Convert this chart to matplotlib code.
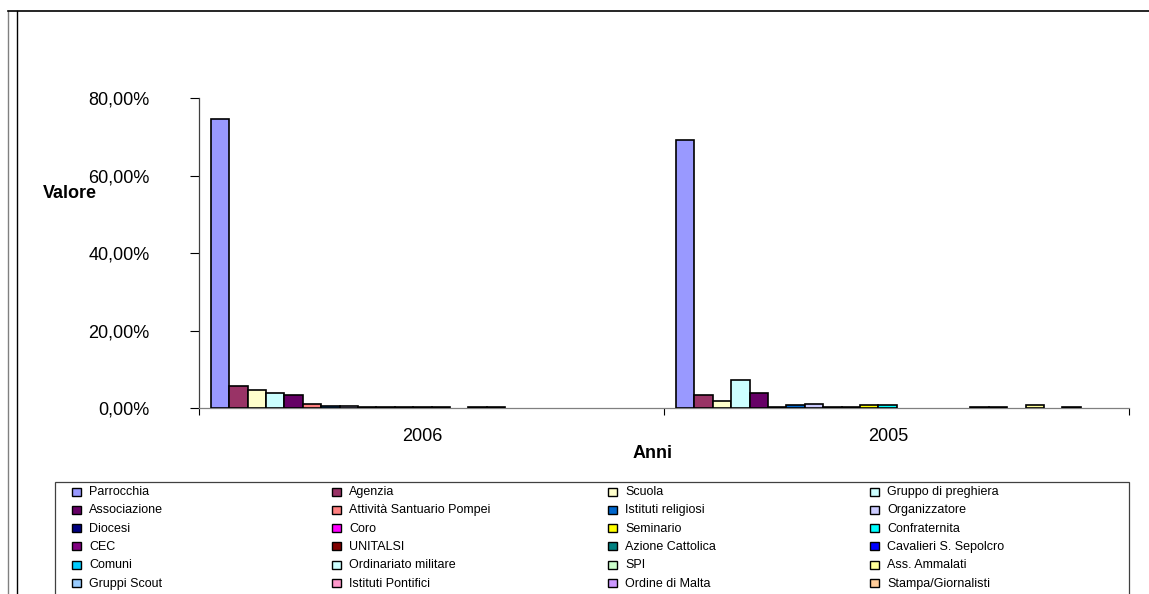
import matplotlib
matplotlib.use("Agg")
import matplotlib.pyplot as plt
from matplotlib.patches import Rectangle
from matplotlib.lines import Line2D
from matplotlib.ticker import FuncFormatter, FixedLocator
import matplotlib.transforms as mtransforms

plt.rcParams['font.family'] = ['Liberation Sans', 'DejaVu Sans']

categories = ["2006", "2005"]
series = ["Parrocchia", "Agenzia", "Scuola", "Gruppo di preghiera",
          "Associazione", "Attività Santuario Pompei", "Istituti religiosi", "Organizzatore",
          "Diocesi", "Coro", "Seminario", "Confraternita",
          "CEC", "UNITALSI", "Azione Cattolica", "Cavalieri S. Sepolcro",
          "Comuni", "Ordinariato militare", "SPI", "Ass. Ammalati",
          "Gruppi Scout", "Istituti Pontifici", "Ordine di Malta", "Stampa/Giornalisti"]
values_2006 = [74.7, 5.65, 4.8, 4.0, 3.45, 1.15, 0.65, 0.7,
               0.35, 0.35, 0.35, 0.35, 0.35, 0.0, 0.35, 0.35,
               0.0, 0.0, 0.0, 0.0, 0.0, 0.0, 0.0, 0.0]
values_2005 = [69.25, 3.45, 1.85, 7.35, 3.85, 0.3, 0.8, 1.2,
               0.3, 0.3, 0.8, 0.8, 0.0, 0.0, 0.0, 0.0,
               0.35, 0.35, 0.0, 0.8, 0.0, 0.35, 0.0, 0.0]
colors = ["#9999FF", "#993366", "#FFFFCC", "#CCFFFF", "#660066", "#FF8080", "#0066CC", "#CCCCFF",
          "#000080", "#FF00FF", "#FFFF00", "#00FFFF", "#800080", "#800000", "#008080", "#0000FF",
          "#00CCFF", "#CCFFFF", "#CCFFCC", "#FFFF99", "#99CCFF", "#FF99CC", "#CC99FF", "#FFCC99"]
y_ticks = [0, 20, 40, 60, 80]

W, H = 1149, 594
fig = plt.figure(figsize=(W / 100, H / 100), dpi=100)

def fx(px):
    return px / W

def fy(py):
    return 1 - py / H

ax_l, ax_r, ax_t, ax_b = 199, 1129.5, 98.3, 408.3
ax = fig.add_axes([fx(ax_l), fy(ax_b), fx(ax_r) - fx(ax_l), fy(ax_t) - fy(ax_b)])

values = [values_2006, values_2005]
n = len(series)
bar_w = 18.4 / 465.3
gap = 1 - n * bar_w
for j in range(n):
    xs = [i - 0.5 + gap / 2 + (j + 0.5) * bar_w for i in range(len(categories))]
    hs = [values[i][j] for i in range(len(categories))]
    lws = [1.2 if h > 0 else 0 for h in hs]
    ax.bar(xs, hs, width=bar_w, color=colors[j], edgecolor="black", linewidth=lws,
           label=series[j], zorder=3)

ax.set_xlim(-0.5, len(categories) - 0.5)
ax.set_ylim(0, 80)
ax.set_yticks(y_ticks)
ax.yaxis.set_major_formatter(FuncFormatter(lambda v, p: f"{v:.2f}%".replace(".", ",")))
ax.tick_params(axis="y", direction="out", length=6.5, width=0.8, pad=29, labelsize=13,
               color="#000000")
ax.set_xticks(range(len(categories)))
ax.set_xticklabels(categories)
ax.xaxis.set_minor_locator(FixedLocator([i - 0.5 for i in range(len(categories) + 1)]))
ax.tick_params(axis="x", which="major", length=0, pad=14.5, labelsize=13)
ax.tick_params(axis="x", which="minor", direction="out", length=5, width=0.8, color="#000000")
offset = mtransforms.ScaledTranslation(-9 / 100, 0, fig.dpi_scale_trans)
for lab in ax.get_xticklabels():
    lab.set_transform(lab.get_transform() + offset)

for s in ["top", "right"]:
    ax.spines[s].set_visible(False)
ax.spines["left"].set_color("#404040")
ax.spines["bottom"].set_color("#808080")
ax.spines["left"].set_linewidth(0.9)
ax.spines["bottom"].set_linewidth(0.9)

fig.text(fx(43), fy(193), "Valore", fontsize=13, fontweight="bold", ha="left", va="center")
fig.text(fx(653), fy(454), "Anni", fontsize=13, fontweight="bold", ha="center", va="center")

# outer frame lines
fig.add_artist(Line2D([fx(8), fx(8)], [fy(10.7), 0], color="#808080", linewidth=1.0))
fig.add_artist(Line2D([fx(17.3), fx(17.3)], [fy(10.7), 0], color="#000000", linewidth=1.0))
fig.add_artist(Line2D([fx(8), 1], [fy(10.7), fy(10.7)], color="#000000", linewidth=1.2))

# legend box
fig.add_artist(Rectangle((fx(55), fy(600)), fx(1129) - fx(55), fy(481.7) - fy(600),
                         facecolor="white", edgecolor="#404040", linewidth=0.9))
col_x = [72, 332, 608, 870]
row_y = [491.5, 509.8, 528.1, 546.4, 565.0, 583.4]
ncol = 4
for j, name in enumerate(series):
    r, c = divmod(j, ncol)
    mx, my = col_x[c], row_y[r]
    fig.add_artist(Rectangle((fx(mx), fy(my + 4)), fx(9), 8 / H,
                             facecolor=colors[j], edgecolor="black", linewidth=1.0))
    fig.text(fx(mx + 17), fy(my + 0.5), name, fontsize=9, ha="left", va="center")

fig.savefig("out.png", dpi=100)
